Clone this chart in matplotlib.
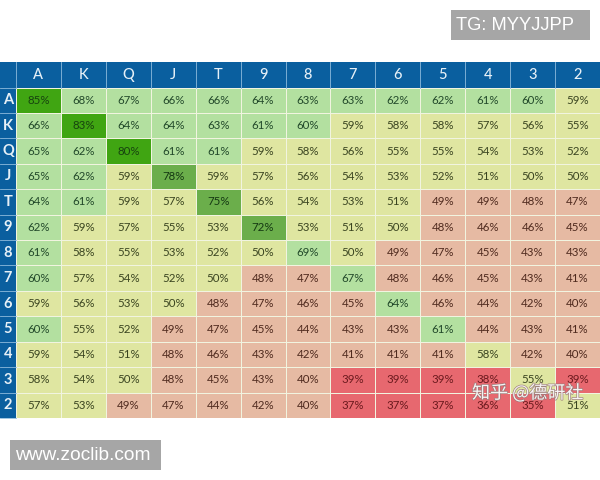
import matplotlib
matplotlib.use("Agg")
import matplotlib.pyplot as plt
from matplotlib.colors import BoundaryNorm, ListedColormap
from matplotlib.patches import Rectangle
import matplotlib.patheffects as pe
import numpy as np

ranks = ["A", "K", "Q", "J", "T", "9", "8", "7", "6", "5", "4", "3", "2"]
row_A = [85, 68, 67, 66, 66, 64, 63, 63, 62, 62, 61, 60, 59]
row_K = [66, 83, 64, 64, 63, 61, 60, 59, 58, 58, 57, 56, 55]
row_Q = [65, 62, 80, 61, 61, 59, 58, 56, 55, 55, 54, 53, 52]
row_J = [65, 62, 59, 78, 59, 57, 56, 54, 53, 52, 51, 50, 50]
row_T = [64, 61, 59, 57, 75, 56, 54, 53, 51, 49, 49, 48, 47]
row_9 = [62, 59, 57, 55, 53, 72, 53, 51, 50, 48, 46, 46, 45]
row_8 = [61, 58, 55, 53, 52, 50, 69, 50, 49, 47, 45, 43, 43]
row_7 = [60, 57, 54, 52, 50, 48, 47, 67, 48, 46, 45, 43, 41]
row_6 = [59, 56, 53, 50, 48, 47, 46, 45, 64, 46, 44, 42, 40]
row_5 = [60, 55, 52, 49, 47, 45, 44, 43, 43, 61, 44, 43, 41]
row_4 = [59, 54, 51, 48, 46, 43, 42, 41, 41, 41, 58, 42, 40]
row_3 = [58, 54, 50, 48, 45, 43, 40, 39, 39, 39, 38, 55, 39]
row_2 = [57, 53, 49, 47, 44, 42, 40, 37, 37, 37, 36, 35, 51]
values = np.array([row_A, row_K, row_Q, row_J, row_T, row_9, row_8,
                   row_7, row_6, row_5, row_4, row_3, row_2])

bounds = [0, 40, 50, 60, 70, 80, 100]
cell_colors = ["#e7686f", "#e6baa3", "#dfe6a1", "#b3e0a0", "#6bae4b", "#40a512"]
text_colors = ["#6b1a1e", "#4f2a1e", "#3a4420", "#22492a", "#143812", "#17430f"]

W, H = 600, 480
fig = plt.figure(figsize=(W / 100, H / 100), dpi=100, facecolor="white")

L, R, T, B = 16, 600, 87.5, 418
ax = fig.add_axes([L / W, 1 - B / H, (R - L) / W, (B - T) / H])
cmap = ListedColormap(cell_colors)
norm = BoundaryNorm(bounds, cmap.N)
ax.pcolormesh(np.arange(14), np.arange(14), values, cmap=cmap, norm=norm,
              edgecolors="#f1f4e0", linewidth=0.45)
ax.set_xlim(0, 13)
ax.set_ylim(13, 0)
ax.axis("off")

header = "#0a5f9f"
head_h = (T - 62) / ((B - T) / 13)
head_w = L / ((R - L) / 13)
ax.add_patch(Rectangle((-head_w, -head_h), 13 + head_w, 13 + head_h,
                       fc=header, ec="none", clip_on=False, zorder=0))
for i in range(14):
    ax.plot([i, i], [-head_h, 0], color="#8dbbdc", lw=0.6, clip_on=False, zorder=2)
    ax.plot([-head_w, 0], [i, i], color="#8dbbdc", lw=0.6, clip_on=False, zorder=2)

for i, rank in enumerate(ranks):
    ax.text(i + 0.5, -head_h / 2, rank, color="#e6f0f7", fontsize=10.5, family="Lato",
            fontweight="medium", ha="center", va="center", clip_on=False)
    ax.text(-head_w / 2, i + 0.5, rank, color="#e6f0f7", fontsize=10.5, family="Lato",
            fontweight="bold", ha="center", va="center", clip_on=False)

for r in range(13):
    for c in range(13):
        v = values[r, c]
        idx = np.searchsorted(bounds, v, side="right") - 1
        ax.text(c + 0.5, r + 0.5, f"{v}%", color=text_colors[idx], fontsize=8.3,
                family="Lato", ha="center", va="center", zorder=3)

# Overlays: watermark labels
for (x0, y0, x1, y1) in [(451, 10, 590, 40), (10, 440, 161, 470)]:
    fig.add_artist(Rectangle((x0 / W, 1 - y1 / H), (x1 - x0) / W, (y1 - y0) / H,
                             transform=fig.transFigure, fc="#a6a6a6", ec="none"))
fig.text(456 / W, 1 - 25 / H, "TG: MYYJJPP", color="white", fontsize=13.2,
         family="Liberation Sans", va="center", ha="left")
fig.text(15 / W, 1 - 456 / H, "www.zoclib.com", color="white", fontsize=13.8,
         family="Liberation Sans", va="center", ha="left")
fig.text(472 / W, 1 - 393 / H, "知乎 @德研社", color="white", fontsize=13, alpha=0.9,
         family=["Noto Sans CJK SC", "DejaVu Sans"], va="center", ha="left", zorder=10,
         path_effects=[pe.withStroke(linewidth=1.0, foreground="#9a7a7a")])

fig.savefig("out.png", dpi=100)
